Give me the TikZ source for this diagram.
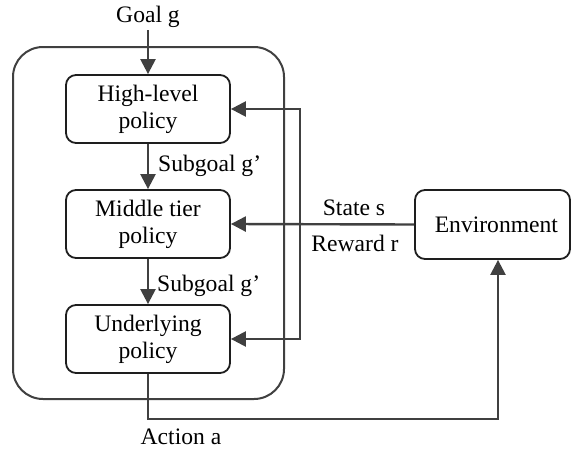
\documentclass[tikz,border=0pt]{standalone}
\usepackage{fontspec}
\setmainfont{Liberation Serif}
\usetikzlibrary{arrows.meta}
\definecolor{linegray}{HTML}{404040}
\definecolor{boxline}{HTML}{1E1E1E}
\tikzset{
  txt/.style={font=\fontsize{23.6}{27}\selectfont, inner sep=0pt},
  policybox/.style={txt, draw=boxline, line width=1.8pt, rounded corners=10pt,
    minimum width=164pt, minimum height=68pt, align=center},
  agentbox/.style={draw=linegray, line width=2pt, rounded corners=30pt,
    minimum width=271pt, minimum height=352pt, inner sep=0pt},
  arr/.style={draw=linegray, line width=2.4pt,
    -{Triangle[length=15pt,width=15pt]}}
}
\begin{document}
\begin{tikzpicture}[x=1pt,y=-1pt]
  \useasboundingbox (0,0) rectangle (571,450);

  % agent frame and the three policy tiers
  \node[agentbox] (agent) at (148.5,223) {};
  \node[policybox] (high)  at (148,109) {High-level\\policy};
  \node[policybox] (mid)   at (148,224) {Middle tier\\policy};
  \node[policybox] (under) at (148,339) {Underlying\\policy};
  \node[policybox, minimum width=155pt, minimum height=69pt,
        text width=131pt, align=right] (env) at (492.5,224.5) {Environment};

  % goal input
  \node[txt] (goal) at (148,17) {Goal g};
  \coordinate (goalstart) at (148,30);
  \draw[arr] (goalstart) -- (high.north);

  % subgoal hand-downs
  \draw[arr] (high.south) -- (mid.north);
  \node[txt, anchor=west] (sg1) at (158,166) {Subgoal g’};
  \draw[arr] (mid.south) -- (under.north);
  \node[txt, anchor=west] (sg2) at (157,286) {Subgoal g’};

  % state / reward feedback
  \coordinate (bus) at (300,224);
  \draw[arr] (env.west) -- (mid.east);
  \draw[arr] (bus) |- (high.east);
  \draw[arr] (bus) |- (under.east);
  \node[txt] (state) at (354,208) {State s};
  \node[txt] (reward) at (355,243) {Reward r};

  % action output
  \coordinate (actturn) at (148,419);
  \coordinate (envin) at (498,419);
  \draw[arr] (under.south) -- (actturn) -- (envin) -- (envin |- env.south);
  \node[txt] (action) at (181,437) {Action a};
\end{tikzpicture}
\end{document}
